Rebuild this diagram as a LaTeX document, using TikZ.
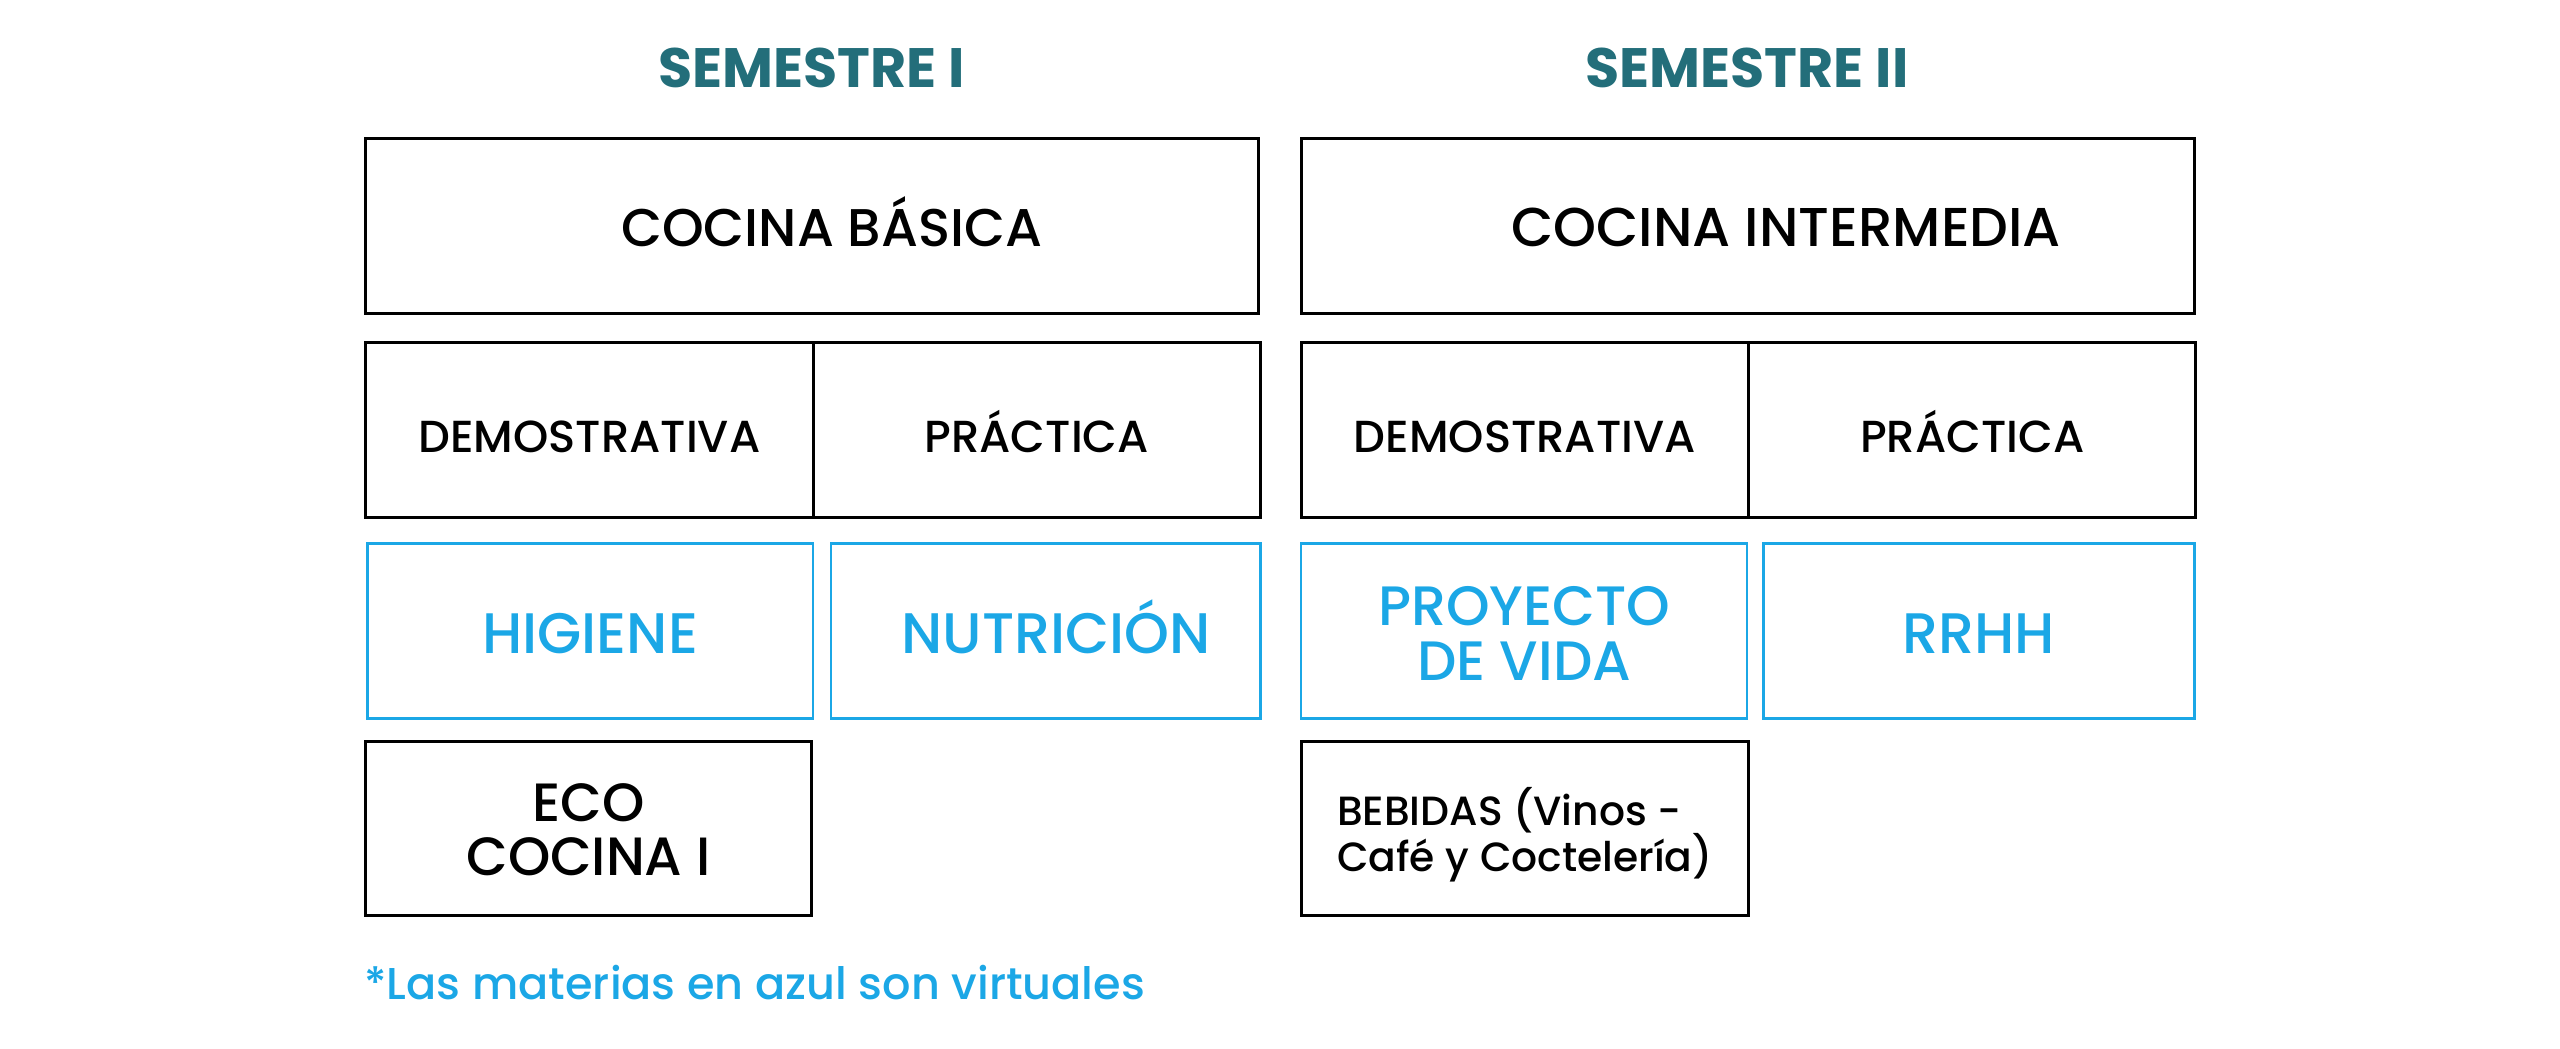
\documentclass[tikz,border=0pt]{standalone}
\usepackage{fontspec}
\setmainfont{Poppins}[UprightFont=* Medium,BoldFont=* Bold]
\usetikzlibrary{positioning}
\definecolor{teal}{RGB}{35,110,122}
\definecolor{azul}{RGB}{27,167,230}
\newcommand{\topline}[1]{\rule{0pt}{#1}}
\newcommand{\botline}[1]{\rule[-#1]{0pt}{#1}}

\begin{document}
\begin{tikzpicture}[x=1pt,y=-1pt,
		box/.style={draw=black,line width=1.8pt,minimum height=107pt,inner sep=0pt},
		vbox/.style={draw=azul,line width=1.5pt,minimum height=107pt,inner sep=0pt,text=azul},
		oneline/.style={text height=#1,text depth=0pt},
		title/.style={anchor=base,text=teal,font=\fontsize{34}{38}\selectfont\bfseries}]
		\useasboundingbox (0,0) rectangle (1568,642);
		\node[title] (sem1) at (497,53.5) {SEMESTRE I};
		\node[title] (sem2) at (1070,53.5) {SEMESTRE II};
		% semestre I
		\node[box,oneline=25pt,minimum width=547pt,font=\fontsize{32.5}{36}\selectfont] (cb) at (497.5,138.5) {\hspace*{24pt}COCINA BÁSICA};
		\node[box,oneline=27pt,minimum width=274pt,font=\fontsize{27.5}{30}\selectfont] (dem1) at (361,263.5) {DEMOSTRATIVA};
		\node[box,oneline=27pt,minimum width=274pt,font=\fontsize{27.5}{30}\selectfont] (pra1) at (635,263.5) {PRÁCTICA};
		\node[vbox,oneline=27pt,minimum width=273pt,font=\fontsize{35}{38}\selectfont] (hig) at (361.5,386.5) {HIGIENE};
		\node[vbox,oneline=27pt,minimum width=263pt,font=\fontsize{35}{38}\selectfont] (nut) at (640.5,386.5) {\hspace*{13pt}NUTRICIÓN};
		\node[box,minimum width=273pt,align=center,font=\fontsize{33}{33}\selectfont] (eco) at (360.5,507.5) {\topline{30pt}ECO\\COCINA I\botline{6pt}};
		% semestre II
		\node[box,oneline=25pt,minimum width=547pt,font=\fontsize{33.5}{36}\selectfont] (ci) at (1070.5,138.5) {\hspace*{47pt}COCINA INTERMEDIA};
		\node[box,oneline=27pt,minimum width=274pt,font=\fontsize{27.5}{30}\selectfont] (dem2) at (934,263.5) {DEMOSTRATIVA};
		\node[box,oneline=27pt,minimum width=274pt,font=\fontsize{27.5}{30}\selectfont] (pra2) at (1208,263.5) {PRÁCTICA};
		\node[vbox,minimum width=273pt,align=center,font=\fontsize{34}{33.5}\selectfont] (pro) at (933.5,386.5) {\topline{32.5pt}PROYECTO\\DE VIDA\botline{6pt}};
		\node[vbox,oneline=27pt,minimum width=264pt,font=\fontsize{35}{38}\selectfont] (rrhh) at (1212,386.5) {RRHH};
		\node[box,minimum width=274pt,align=left,font=\fontsize{25}{28}\selectfont] (beb) at (934,507.5) {\topline{31pt}BEBIDAS (Vinos -\\Café y Coctelería)\botline{6pt}};
		% nota
		\node[anchor=base west,inner sep=0pt,text=azul,font=\fontsize{27.3}{30}\selectfont] (nota) at (223,612) {*Las materias en azul son virtuales};
	\end{tikzpicture}
\end{document}
